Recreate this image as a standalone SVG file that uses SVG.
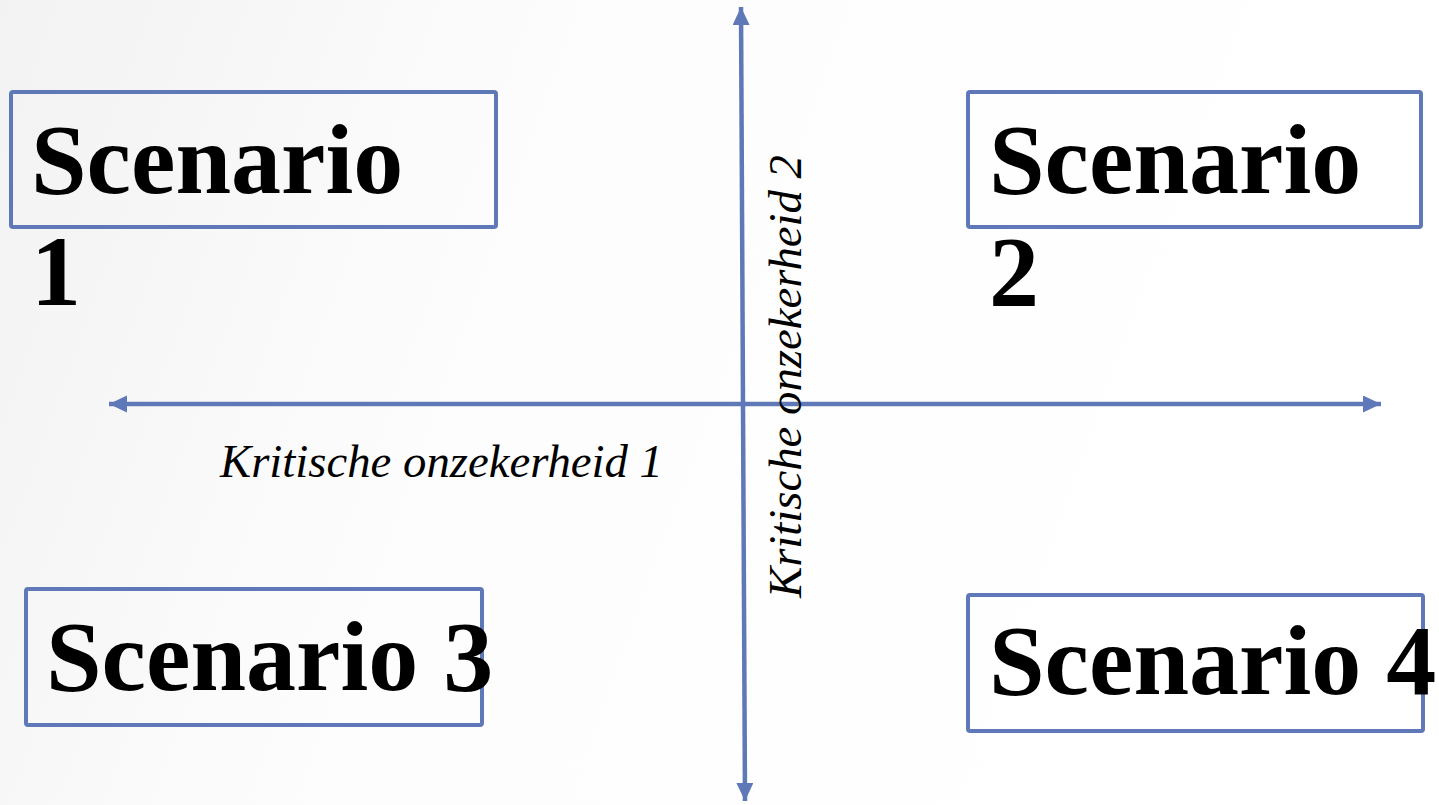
<svg xmlns="http://www.w3.org/2000/svg" width="1439" height="805" viewBox="0 0 1439 805">
  <defs>
    <linearGradient id="bg" x1="0" y1="0" x2="1" y2="0.2">
      <stop offset="0" stop-color="#f2f2f2"/>
      <stop offset="0.4" stop-color="#fdfdfd"/>
      <stop offset="1" stop-color="#ffffff"/>
    </linearGradient>
    <marker id="arr" markerUnits="userSpaceOnUse" markerWidth="20" markerHeight="18" refX="18" refY="8.5" orient="auto-start-reverse">
      <path d="M0,0 L18,8.5 L0,17 z" fill="#5f78b8"/>
    </marker>
    <style>
      .box { fill: none; stroke: #5f78b8; stroke-width: 4; }
      .title { font-family: "Liberation Serif", "Times New Roman", serif; font-weight: bold; font-size: 100px; fill: #000; }
      .axis { stroke: #5f78b8; stroke-width: 4.5; fill: none; }
      .lbl { font-family: "Liberation Serif", "Times New Roman", serif; font-style: italic; font-size: 46px; fill: #000; }
    </style>
  </defs>
  <rect x="0" y="0" width="1439" height="805" fill="url(#bg)"/>

  <g id="connectors">
    <line class="axis" x1="109" y1="404" x2="1381" y2="404" marker-start="url(#arr)" marker-end="url(#arr)"/>
    <line class="axis" x1="741" y1="7" x2="745" y2="801" marker-start="url(#arr)" marker-end="url(#arr)"/>
  </g>

  <g id="axis-label-1">
    <text class="lbl" x="220" y="477" textLength="443" lengthAdjust="spacingAndGlyphs">Kritische onzekerheid 1</text>
  </g>
  <g id="axis-label-2">
    <text class="lbl" transform="translate(801,598) rotate(-90)" x="0" y="0" textLength="443" lengthAdjust="spacingAndGlyphs">Kritische onzekerheid 2</text>
  </g>

  <g id="scenario-1">
    <rect class="box" x="11" y="92" width="485" height="135" rx="2"/>
    <text class="title" x="31" y="193">Scenario</text>
    <text class="title" x="31" y="305">1</text>
  </g>
  <g id="scenario-2">
    <rect class="box" x="968" y="92" width="453" height="135" rx="2"/>
    <text class="title" x="989" y="193">Scenario</text>
    <text class="title" x="989" y="305">2</text>
  </g>
  <g id="scenario-3">
    <rect class="box" x="26" y="589" width="456" height="136" rx="2"/>
    <text class="title" x="46" y="690">Scenario 3</text>
  </g>
  <g id="scenario-4">
    <rect class="box" x="968" y="595" width="455" height="136" rx="2"/>
    <text class="title" x="989" y="694">Scenario 4</text>
  </g>
</svg>
